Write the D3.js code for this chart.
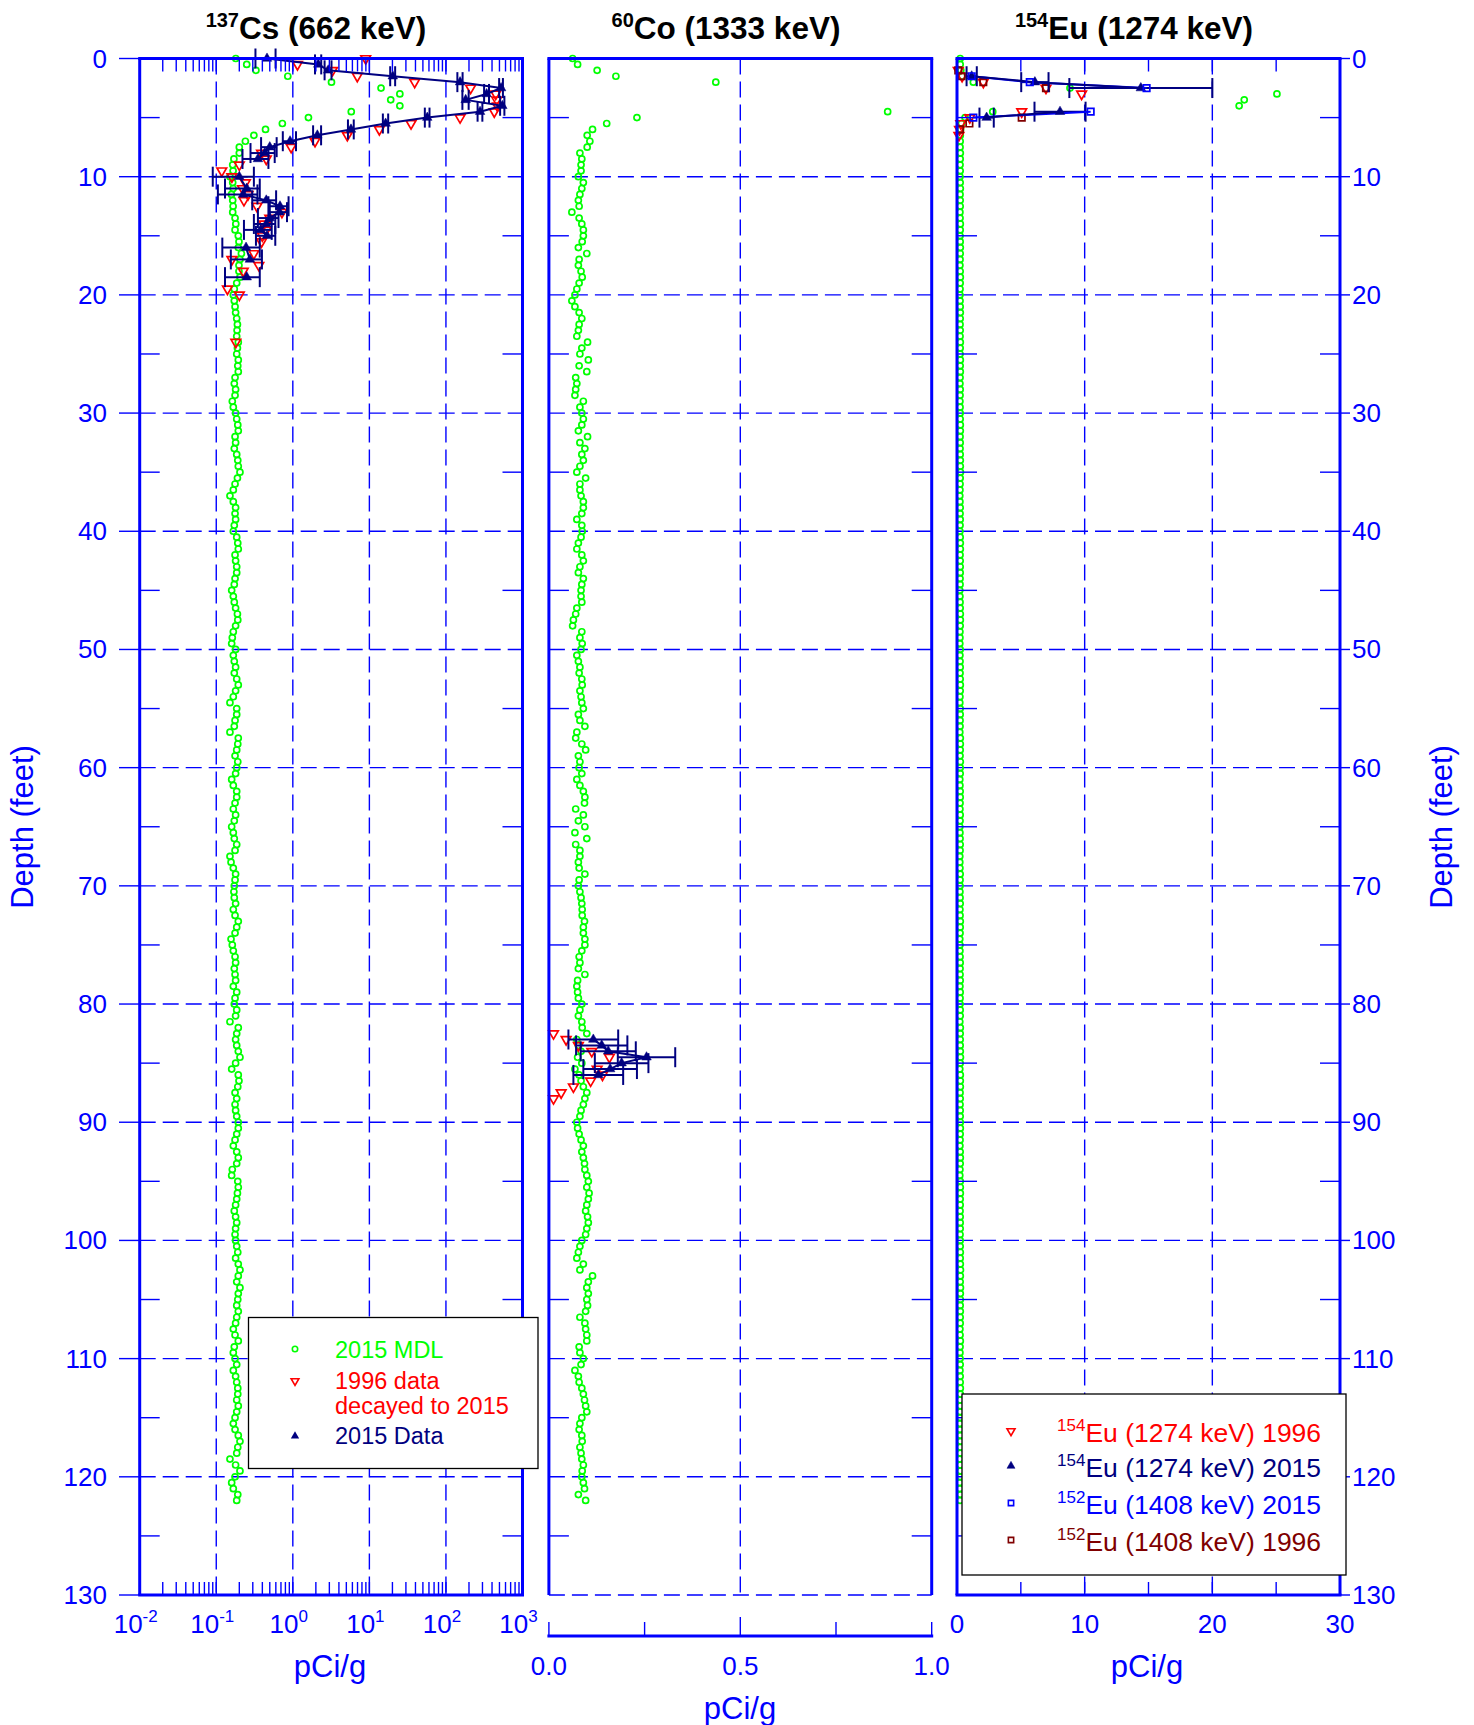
<!DOCTYPE html>
<html>
<head>
<meta charset="utf-8">
<script src="https://cdn.jsdelivr.net/npm/d3@7"></script>
<style>
body { margin: 0; background: #fff; }
text { font-family: "Liberation Sans", Arial, sans-serif; }
</style>
</head>
<body>
<svg id="chart" width="1474" height="1725"></svg>
<script>
// depths of the 2015 MDL log (feet)
var mdlDepth = [0,0.5,1,1.5,2,2.5,3,3.5,4,4.5,5,5.5,6,6.5,7,7.5,8,8.5,9,9.5,10,10.5,11,11.5,12,12.5,13,13.5,14,14.5,15,15.5,16,16.5,17,17.5,18,18.5,19,19.5,
20,20.5,21,21.5,22,22.5,23,23.5,24,24.5,25,25.5,26,26.5,27,27.5,28,28.5,29,29.5,30,30.5,31,31.5,32,32.5,33,33.5,34,34.5,35,35.5,36,36.5,37,37.5,38,38.5,39,39.5,
40,40.5,41,41.5,42,42.5,43,43.5,44,44.5,45,45.5,46,46.5,47,47.5,48,48.5,49,49.5,50,50.5,51,51.5,52,52.5,53,53.5,54,54.5,55,55.5,56,56.5,57,57.5,58,58.5,59,59.5,
60,60.5,61,61.5,62,62.5,63,63.5,64,64.5,65,65.5,66,66.5,67,67.5,68,68.5,69,69.5,70,70.5,71,71.5,72,72.5,73,73.5,74,74.5,75,75.5,76,76.5,77,77.5,78,78.5,79,79.5,
80,80.5,81,81.5,82,82.5,83,83.5,84,84.5,85,85.5,86,86.5,87,87.5,88,88.5,89,89.5,90,90.5,91,91.5,92,92.5,93,93.5,94,94.5,95,95.5,96,96.5,97,97.5,98,98.5,99,99.5,
100,100.5,101,101.5,102,102.5,103,103.5,104,104.5,105,105.5,106,106.5,107,107.5,108,108.5,109,109.5,110,110.5,111,111.5,112,112.5,113,113.5,114,114.5,115,115.5,116,116.5,117,117.5,118,118.5,119,119.5,
120,120.5,121,121.5,122];

var csMdl = [0.18,0.25,0.33,0.86,3.2,14.2,25,19,25,5.8,1.6,0.73,0.44,0.31,0.24,0.2,0.2,0.17,0.164,0.166,
0.151,0.164,0.166,0.158,0.164,0.166,0.164,0.176,0.18,0.176,0.194,0.198,0.194,0.213,0.204,0.198,0.198,0.204,0.185,0.172,
0.167,0.172,0.176,0.179,0.185,0.189,0.187,0.185,0.194,0.189,0.185,0.194,0.191,0.194,0.176,0.172,0.179,0.176,0.162,0.167,
0.179,0.185,0.191,0.194,0.176,0.179,0.172,0.185,0.191,0.194,0.204,0.189,0.176,0.167,0.151,0.167,0.179,0.176,0.179,0.172,
0.167,0.185,0.191,0.194,0.176,0.179,0.185,0.185,0.176,0.172,0.159,0.167,0.172,0.179,0.189,0.191,0.179,0.167,0.162,0.159,
0.179,0.167,0.172,0.179,0.172,0.185,0.194,0.179,0.167,0.151,0.185,0.185,0.176,0.172,0.151,0.194,0.191,0.185,0.176,0.191,
0.185,0.179,0.159,0.167,0.185,0.185,0.176,0.167,0.179,0.172,0.159,0.167,0.172,0.185,0.176,0.151,0.156,0.167,0.179,0.176,
0.172,0.17,0.172,0.179,0.167,0.176,0.194,0.185,0.176,0.156,0.162,0.167,0.176,0.179,0.172,0.176,0.179,0.167,0.185,0.176,
0.172,0.185,0.179,0.151,0.194,0.185,0.179,0.185,0.194,0.204,0.179,0.159,0.194,0.198,0.191,0.176,0.185,0.176,0.179,0.185,
0.194,0.194,0.185,0.176,0.167,0.185,0.194,0.185,0.162,0.159,0.191,0.194,0.189,0.185,0.179,0.172,0.179,0.185,0.179,0.176,
0.179,0.185,0.191,0.179,0.194,0.204,0.194,0.185,0.204,0.194,0.191,0.185,0.194,0.185,0.179,0.167,0.176,0.194,0.172,0.167,
0.176,0.185,0.167,0.179,0.185,0.191,0.191,0.185,0.194,0.185,0.176,0.167,0.176,0.194,0.204,0.191,0.185,0.151,0.179,0.204,
0.176,0.159,0.167,0.191,0.185];

var coMdl = [0.062,0.075,0.126,0.175,0.436,null,null,null,null,0.885,0.23,0.151,0.114,0.1,0.107,0.1,0.081,0.086,0.084,0.084,
0.077,0.09,0.086,0.081,0.077,0.079,0.06,0.079,0.086,0.09,0.09,0.087,0.077,0.099,0.079,0.077,0.084,0.087,0.079,0.073,
0.068,0.06,0.068,0.079,0.086,0.079,0.077,0.073,0.101,0.086,0.081,0.103,0.079,0.099,0.07,0.073,0.07,0.068,0.09,0.081,
0.086,0.09,0.086,0.077,0.101,0.081,0.094,0.086,0.09,0.081,0.073,0.096,0.081,0.081,0.084,0.09,0.09,0.086,0.073,0.086,
0.087,0.084,0.077,0.073,0.086,0.09,0.081,0.077,0.09,0.086,0.084,0.084,0.086,0.073,0.07,0.064,0.062,0.086,0.081,0.087,
0.084,0.073,0.077,0.081,0.079,0.086,0.087,0.081,0.084,0.086,0.09,0.077,0.081,0.094,0.073,0.07,0.086,0.096,0.077,0.081,
0.079,0.086,0.073,0.081,0.09,0.094,0.093,0.07,0.09,0.077,0.094,0.068,0.099,0.07,0.081,0.081,0.077,0.079,0.094,0.079,
0.077,0.081,0.084,0.086,0.087,0.087,0.093,0.09,0.09,0.094,0.094,0.086,0.079,0.081,0.077,0.094,0.075,0.073,0.075,0.077,
0.086,0.081,0.077,0.086,0.087,0.099,0.073,0.077,0.084,0.075,0.086,0.068,0.079,0.084,0.09,0.099,0.094,0.09,0.084,0.081,
0.073,0.075,0.079,0.084,0.09,0.086,0.09,0.093,0.094,0.099,0.103,0.099,0.105,0.103,0.099,0.096,0.101,0.103,0.099,0.096,
0.086,0.081,0.077,0.073,0.09,0.081,0.114,0.103,0.099,0.103,0.099,0.101,0.096,0.081,0.094,0.096,0.099,0.099,0.079,0.081,
0.09,0.084,0.068,0.077,0.079,0.086,0.09,0.093,0.096,0.099,0.086,0.081,0.079,0.086,0.087,0.081,0.084,0.086,0.09,0.087,
0.086,0.09,0.093,0.077,0.096];

var euMdl = [0.25,0.25,0.3,0.4,1.28,8.85,25.06,22.5,22.1,2.8,0.63,0.35,0.28,0.26,0.25,0.24,0.26,0.25,0.24,0.25,
0.23,0.25,0.26,0.24,0.25,0.25,0.23,0.24,0.26,0.25,0.24,0.25,0.26,0.25,0.24,0.23,0.25,0.26,0.25,0.24,
0.23,0.24,0.25,0.26,0.25,0.24,0.25,0.24,0.26,0.25,0.24,0.26,0.25,0.26,0.24,0.23,0.25,0.24,0.23,0.24,
0.25,0.25,0.26,0.26,0.24,0.25,0.24,0.25,0.26,0.26,0.27,0.25,0.24,0.23,0.22,0.23,0.25,0.24,0.25,0.24,
0.23,0.25,0.26,0.26,0.24,0.25,0.25,0.25,0.24,0.24,0.22,0.23,0.24,0.25,0.26,0.26,0.25,0.23,0.23,0.22,
0.25,0.23,0.24,0.25,0.24,0.25,0.26,0.25,0.23,0.22,0.25,0.25,0.24,0.24,0.22,0.26,0.26,0.25,0.24,0.26,
0.25,0.25,0.22,0.23,0.25,0.25,0.24,0.23,0.25,0.24,0.22,0.23,0.24,0.25,0.24,0.22,0.22,0.23,0.25,0.24,
0.24,0.23,0.24,0.25,0.23,0.24,0.26,0.25,0.24,0.22,0.23,0.23,0.24,0.25,0.24,0.24,0.25,0.23,0.25,0.24,
0.24,0.25,0.25,0.22,0.26,0.25,0.25,0.25,0.26,0.27,0.25,0.22,0.26,0.26,0.26,0.24,0.25,0.24,0.25,0.25,
0.26,0.26,0.25,0.24,0.23,0.25,0.26,0.25,0.23,0.22,0.26,0.26,0.26,0.25,0.25,0.24,0.25,0.25,0.25,0.24,
0.25,0.25,0.26,0.25,0.26,0.27,0.26,0.25,0.27,0.26,0.26,0.25,0.26,0.25,0.25,0.23,0.24,0.26,0.24,0.23,
0.24,0.25,0.23,0.25,0.25,0.26,0.26,0.25,0.26,0.25,0.24,0.23,0.24,0.26,0.27,0.26,0.25,0.22,0.25,0.27,
0.24,0.22,0.23,0.26,0.25];

// 137Cs, 2015 data (null = gap in the connecting line)
var cs2015Depth = [0,0.5,1,1.5,2,2.5,3,3.5,4,4.5,5,5.5,6,6.5,7,7.5,8,8.5,9,10,11,11.5,12,12.5,13,13.5,14,14.5,15,15.5,16,17,18,18.5];
var cs2015 =      [0.46,2.15,2.9,20.2,153,525,340,181,545,279,57,16.3,5.75,2.09,0.92,0.5,0.43,0.35,null,0.2,0.25,0.225,0.45,0.68,0.67,0.5,0.45,0.38,0.46,null,0.245,0.275,null,0.25];
var cs2015Err =   [0.135,0.2,0.3,1.5,12,30,25,17,35,20,4,1.3,0.5,0.25,0.18,0.115,0.15,0.13,null,0.11,0.12,0.12,0.155,0.2,0.17,0.15,0.14,0.15,0.13,null,0.125,0.12,null,0.12];
// 137Cs, 1996 data decayed to 2015
var cs1996Depth = [0,0.5,1,1.5,2,2.5,3,3.5,4,4.5,5,5.5,6,6.5,7,7.5,8,8.5,9,9.5,10,10.5,11,11.5,12,12.5,13,13.5,14,14.5,15,15.5,16.5,17,17.5,18,19.5,20,24];
var cs1996 =      [8.95,1.15,3.3,6.95,39,210,447,460,470,428,153,35,13.5,5.15,1.95,0.95,0.39,0.45,0.2,0.118,0.16,0.24,0.22,0.26,0.23,0.34,0.72,0.5,0.42,0.45,0.4,0.39,0.31,0.16,0.36,0.225,0.14,0.2,0.18];

// 60Co
var co2015Depth = [83,83.5,84,84.5,85,85.5,86];
var co2015 =      [0.116,0.138,0.155,0.255,0.19,0.16,0.129];
var co2015Err =   [0.065,0.067,0.072,0.075,0.07,0.07,0.065];
var co1996Depth = [82.5,83,83.5,84,84.5,85.5,86,86.5,87,87.5,88];
var co1996 =      [0.012,0.045,0.077,0.112,0.158,0.126,0.14,0.109,0.064,0.032,0.012];

// 154Eu / 152Eu
var eu154y15Depth = [1.5,2,2.5,3,4.5,5];
var eu154y15 =      [1.15,6.1,14.4,null,8.07,2.32];
var eu154y15Err =   [0.4,1.07,5.6,null,2.0,0.56];
var eu152y15Depth = [1.5,2,2.5,3,4.5,5];
var eu152y15 =      [1.15,5.7,14.85,null,10.47,1.28];
var eu154y96Depth = [1,1.5,2,2.5,3,4.5,5,5.5,6,6.5];
var eu154y96 =      [0.1,0.4,2.06,6.97,9.76,5.07,1.0,0.3,0.2,0.15];
var eu152y96Depth = [1,1.5,2,2.5,5,5.5,6];
var eu152y96 =      [0.1,0.35,2.06,6.97,5.07,0.97,0.23];

var depthTicks = [0,10,20,30,40,50,60,70,80,90,100,110,120,130];
var depthMinor = [5,15,25,35,45,55,65,75,85,95,105,115,125];
var csDecades = [-2,-1,0,1,2,3];
var coTicks = ["0.0","0.5","1.0"];
var coMinor = [0,0.25,0.5,0.75,1];
var euTicks = [0,10,20,30];
var euMinor = [5,10,15,20,25];

var BLUE = '#0000ff', NAVY = '#000080', GREEN = '#00ff00', RED = '#ff0000', MAROON = '#800000';

var svg = d3.select('#chart');
var top_y = 58.5, bottom_y = 1595;
var y = d3.scaleLinear().domain([0, 130]).range([top_y, bottom_y]);
var xCs = d3.scaleLog().domain([0.01, 1000]).range([139.7, 522.5]);
var xCo = d3.scaleLinear().domain([0, 1]).range([548.9, 931.7]);
var xEu = d3.scaleLinear().domain([0, 30]).range([957, 1340]);

var pair = function(depths, vals, errs) {
    return depths.map(function(d, i) { return {d: d, v: vals[i], e: errs ? errs[i] : null}; });
};

var grid = svg.append('g');
var marks = svg.append('g');
var frames = svg.append('g');

// dashed grid
var hgrid = function(x, ticks) {
    var x0 = x.range()[0], x1 = x.range()[1];
    grid.selectAll(null).data(ticks).enter().append('line')
        .attr('x1', x0).attr('x2', x1)
        .attr('y1', function(d) { return y(d); }).attr('y2', function(d) { return y(d); })
        .attr('stroke', BLUE).attr('stroke-width', 1.4).attr('stroke-dasharray', '16,7');
};
var vgrid = function(xs) {
    grid.selectAll(null).data(xs).enter().append('line')
        .attr('x1', function(d) { return d; }).attr('x2', function(d) { return d; })
        .attr('y1', top_y).attr('y2', bottom_y)
        .attr('stroke', BLUE).attr('stroke-width', 1.4).attr('stroke-dasharray', '16,7');
};
hgrid(xCs, depthTicks.slice(1, 13));
hgrid(xCo, depthTicks.slice(1, 14));
hgrid(xEu, depthTicks.slice(1, 13));
vgrid([-1, 0, 1, 2].map(function(k) { return xCs(Math.pow(10, k)); }));
vgrid([xCo(0.5)]);
vgrid([xEu(10), xEu(20)]);

// markers
var circles = function(x, vals) {
    var pts = pair(mdlDepth, vals).filter(function(p) { return p.v != null; });
    marks.selectAll(null).data(pts).enter().append('circle')
        .attr('cx', function(p) { return x(p.v); }).attr('cy', function(p) { return y(p.d); })
        .attr('r', 3).attr('fill', 'none').attr('stroke', GREEN).attr('stroke-width', 1.7);
};
var symbols = function(x, pts, type, size, rot, color, filled) {
    marks.selectAll(null).data(pts.filter(function(p) { return p.v != null; })).enter().append('path')
        .attr('d', d3.symbol().type(type).size(size))
        .attr('transform', function(p) { return 'translate(' + x(p.v) + ',' + y(p.d) + ') rotate(' + rot + ')'; })
        .attr('fill', filled ? color : 'none').attr('stroke', color).attr('stroke-width', filled ? 0.5 : 1.7);
};
var errorBars = function(x, pts, color) {
    var g = marks.append('g').attr('stroke', color).attr('stroke-width', 2);
    pts.filter(function(p) { return p.v != null; }).forEach(function(p) {
        var a = x(p.v - p.e), b = x(p.v + p.e), yy = y(p.d);
        g.append('line').attr('x1', a).attr('x2', b).attr('y1', yy).attr('y2', yy);
        g.append('line').attr('x1', a).attr('x2', a).attr('y1', yy - 10).attr('y2', yy + 10);
        g.append('line').attr('x1', b).attr('x2', b).attr('y1', yy - 10).attr('y2', yy + 10);
    });
};
var connect = function(x, pts, color) {
    var line = d3.line().defined(function(p) { return p.v != null; })
        .x(function(p) { return x(p.v); }).y(function(p) { return y(p.d); });
    marks.append('path').attr('d', line(pts)).attr('fill', 'none').attr('stroke', color).attr('stroke-width', 2);
};

// 137Cs
circles(xCs, csMdl);
symbols(xCs, pair(cs1996Depth, cs1996), d3.symbolTriangle, 40, 180, RED, false);
var cs15 = pair(cs2015Depth, cs2015, cs2015Err);
errorBars(xCs, cs15, NAVY);
connect(xCs, cs15, NAVY);
symbols(xCs, cs15, d3.symbolTriangle, 40, 0, NAVY, true);

// 60Co
circles(xCo, coMdl);
symbols(xCo, pair(co1996Depth, co1996), d3.symbolTriangle, 40, 180, RED, false);
var co15 = pair(co2015Depth, co2015, co2015Err);
errorBars(xCo, co15, NAVY);
connect(xCo, co15, NAVY);
symbols(xCo, co15, d3.symbolTriangle, 40, 0, NAVY, true);

// 154Eu
circles(xEu, euMdl);
symbols(xEu, pair(eu154y96Depth, eu154y96), d3.symbolTriangle, 40, 180, RED, false);
symbols(xEu, pair(eu152y96Depth, eu152y96), d3.symbolSquare, 42, 0, MAROON, false);
var eu15 = pair(eu154y15Depth, eu154y15, eu154y15Err);
var eu152 = pair(eu152y15Depth, eu152y15);
errorBars(xEu, eu15, NAVY);
connect(xEu, eu152, BLUE);
connect(xEu, eu15, NAVY);
symbols(xEu, eu15, d3.symbolTriangle, 40, 0, NAVY, true);
symbols(xEu, eu152, d3.symbolSquare, 42, 0, BLUE, false);

// frames and ticks
var frameLine = function(x1, y1, x2, y2, w) {
    frames.append('line').attr('x1', x1).attr('y1', y1).attr('x2', x2).attr('y2', y2)
        .attr('stroke', BLUE).attr('stroke-width', w || 3);
};
var panelFrame = function(x, bottom) {
    var x0 = x.range()[0], x1 = x.range()[1];
    frameLine(x0 - 1.5, top_y, x1 + 1.5, top_y);
    frameLine(x0, top_y, x0, bottom_y);
    frameLine(x1, top_y, x1, bottom_y);
    if (bottom) frameLine(x0 - 1.5, bottom_y, x1 + 1.5, bottom_y);
    depthMinor.forEach(function(d) {
        frameLine(x0, y(d), x0 + 20, y(d), 1.4);
        frameLine(x1, y(d), x1 - 20, y(d), 1.4);
    });
};
panelFrame(xCs, true);
panelFrame(xCo, false);
panelFrame(xEu, true);

// depth axis ticks and labels
depthTicks.forEach(function(d) {
    frameLine(119, y(d), 139.7, y(d), 1.4);
    frameLine(1340, y(d), 1350, y(d), 1.4);
});
var labelFont = 26;
svg.append('g').selectAll('text').data(depthTicks).enter().append('text')
    .attr('x', 107).attr('y', function(d) { return y(d) + 9; })
    .attr('text-anchor', 'end').attr('font-size', labelFont).attr('fill', BLUE)
    .text(function(d) { return d; });
svg.append('g').selectAll('text').data(depthTicks).enter().append('text')
    .attr('x', 1352).attr('y', function(d) { return y(d) + 9; })
    .attr('text-anchor', 'start').attr('font-size', labelFont).attr('fill', BLUE)
    .text(function(d) { return d; });

// Cs log ticks
xCs.ticks().forEach(function(v) {
    var xx = xCs(v);
    frameLine(xx, top_y, xx, top_y + 13, 1.4);
    frameLine(xx, bottom_y, xx, bottom_y - 13, 1.4);
});
var csLab = svg.append('g').selectAll('text').data(csDecades).enter().append('text')
    .attr('x', function(k) { return xCs(Math.pow(10, k)) - 4; }).attr('y', 1633)
    .attr('text-anchor', 'middle').attr('font-size', labelFont).attr('fill', BLUE);
csLab.append('tspan').text('10');
csLab.append('tspan').attr('font-size', 17).attr('dy', -11).text(function(k) { return k; });

// Co axis (offset below the panel)
frameLine(xCo(0) - 1.5, 1636, xCo(1) + 1.5, 1636);
coMinor.forEach(function(v) {
    frameLine(xCo(v), 1636, xCo(v), 1636 - (v === 0.5 ? 19 : 14), 1.4);
});
svg.append('g').selectAll('text').data(coTicks).enter().append('text')
    .attr('x', function(t) { return xCo(+t); }).attr('y', 1675)
    .attr('text-anchor', 'middle').attr('font-size', labelFont).attr('fill', BLUE)
    .text(function(t) { return t; });

// Eu ticks
euMinor.forEach(function(v) {
    frameLine(xEu(v), top_y, xEu(v), top_y + 13, 1.4);
    frameLine(xEu(v), bottom_y, xEu(v), bottom_y - 13, 1.4);
});
svg.append('g').selectAll('text').data(euTicks).enter().append('text')
    .attr('x', function(v) { return xEu(v); }).attr('y', 1633)
    .attr('text-anchor', 'middle').attr('font-size', labelFont).attr('fill', BLUE)
    .text(function(v) { return v; });

// axis titles
var axisTitle = function(x, yy, txt, rot) {
    svg.append('text').attr('transform', 'translate(' + x + ',' + yy + ') rotate(' + rot + ')')
        .attr('text-anchor', 'middle').attr('font-size', 31).attr('fill', BLUE).text(txt);
};
axisTitle(330, 1677, 'pCi/g', 0);
axisTitle(1147, 1677, 'pCi/g', 0);
axisTitle(740, 1719, 'pCi/g', 0);
axisTitle(33, 827, 'Depth (feet)', -90);
axisTitle(1452, 827, 'Depth (feet)', -90);

// panel titles
var panelTitle = function(cx, sup, rest) {
    var t = svg.append('text').attr('x', cx).attr('y', 39).attr('text-anchor', 'middle')
        .attr('font-size', 31.5).attr('font-weight', 'bold').attr('fill', '#000');
    t.append('tspan').attr('font-size', 20).attr('dy', -12).text(sup);
    t.append('tspan').attr('dy', 12).text(rest);
};
panelTitle(316, '137', 'Cs (662 keV)');
panelTitle(726, '60', 'Co (1333 keV)');
panelTitle(1134, '154', 'Eu (1274 keV)');

// legend: Cs panel
var leg1 = svg.append('g');
leg1.append('rect').attr('x', 248.5).attr('y', 1317.5).attr('width', 289.5).attr('height', 151)
    .attr('fill', '#fff').attr('stroke', '#000').attr('stroke-width', 1.3);
leg1.append('circle').attr('cx', 295).attr('cy', 1349).attr('r', 2.7)
    .attr('fill', 'none').attr('stroke', GREEN).attr('stroke-width', 1.6);
leg1.append('path').attr('d', d3.symbol().type(d3.symbolTriangle).size(26))
    .attr('transform', 'translate(295,1381) rotate(180)').attr('fill', 'none').attr('stroke', RED).attr('stroke-width', 1.6);
leg1.append('path').attr('d', d3.symbol().type(d3.symbolTriangle).size(30))
    .attr('transform', 'translate(295,1436)').attr('fill', NAVY);
var leg1Rows = [['2015 MDL', GREEN, 1358], ['1996 data', RED, 1389], ['decayed to 2015', RED, 1414], ['2015 Data', NAVY, 1444]];
leg1.selectAll('text').data(leg1Rows).enter().append('text')
    .attr('x', 335).attr('y', function(r) { return r[2]; }).attr('font-size', 23.5)
    .attr('fill', function(r) { return r[1]; }).text(function(r) { return r[0]; });

// legend: Eu panel
var leg2 = svg.append('g');
leg2.append('rect').attr('x', 962).attr('y', 1394).attr('width', 384).attr('height', 181)
    .attr('fill', '#fff').attr('stroke', '#000').attr('stroke-width', 1.3);
var leg2Rows = [
    {sup: '154', txt: 'Eu (1274 keV) 1996', color: RED, sym: d3.symbolTriangle, rot: 180, fill: false, y: 1431},
    {sup: '154', txt: 'Eu (1274 keV) 2015', color: NAVY, sym: d3.symbolTriangle, rot: 0, fill: true, y: 1466},
    {sup: '152', txt: 'Eu (1408 keV) 2015', color: BLUE, sym: d3.symbolSquare, rot: 0, fill: false, y: 1503},
    {sup: '152', txt: 'Eu (1408 keV) 1996', color: MAROON, sym: d3.symbolSquare, rot: 0, fill: false, y: 1540}
];
leg2Rows.forEach(function(r) {
    leg2.append('path').attr('d', d3.symbol().type(r.sym).size(28))
        .attr('transform', 'translate(1011,' + r.y + ') rotate(' + r.rot + ')')
        .attr('fill', r.fill ? r.color : 'none').attr('stroke', r.color).attr('stroke-width', r.fill ? 0.5 : 1.6);
    var t = leg2.append('text').attr('x', 1057).attr('y', r.y + 11).attr('font-size', 26.5).attr('fill', r.color);
    t.append('tspan').attr('font-size', 17).attr('dy', -11).text(r.sup);
    t.append('tspan').attr('dy', 11).text(r.txt);
});
</script>
</body>
</html>
